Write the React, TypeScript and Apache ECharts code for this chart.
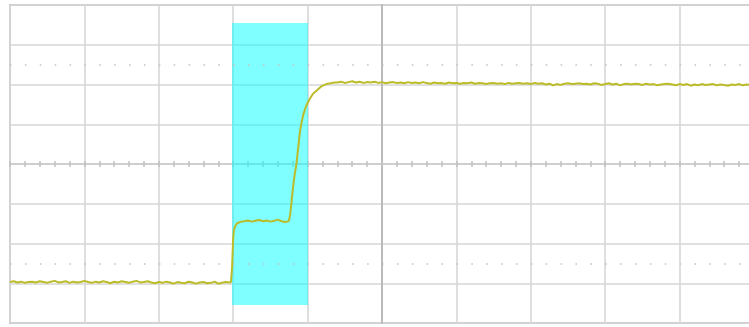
import React, { useEffect, useRef } from "react";
import * as echarts from "echarts";

// Time axis in divisions (-5 .. 5), voltage axis in divisions (-4 .. 4)
const timeRange = [-5, 5];
const voltRange = [-4, 4];
const sampleStep = 0.05;

// Low level before the first edge (starts at t = -5.00)
const lowStart = -5.0;
const lowVolts = [
  -2.97, -2.95, -2.98, -2.96, -2.99, -2.97, -2.96, -2.98, -2.95, -2.97,
  -2.99, -2.96, -2.94, -2.98, -2.97, -2.95, -2.99, -2.96, -2.98, -2.97,
  -2.94, -2.97, -2.99, -2.96, -2.98, -2.95, -2.97, -3.0, -2.96, -2.98,
  -2.95, -2.97, -2.99, -2.96, -2.94, -2.98, -2.97, -2.95, -2.98, -3.0,
  -2.97, -2.99, -2.96, -2.98, -3.01, -2.97, -2.99, -3.0, -2.96, -2.98,
  -3.01, -2.98, -2.97, -3.0, -2.99, -2.96, -3.01, -2.99, -2.97, -2.98,
];

// First edge [time, volts]
const edge1 = [
  [-2.03, -2.97], [-2.015, -2.6], [-2.005, -2.1], [-2.0, -1.85], [-1.99, -1.66],
  [-1.97, -1.55], [-1.945, -1.49], [-1.91, -1.46], [-1.88, -1.45],
];

// Intermediate plateau (starts at t = -1.85)
const plateauStart = -1.85;
const plateauVolts = [-1.44, -1.42, -1.45, -1.43, -1.41, -1.44, -1.42, -1.45, -1.43, -1.4, -1.44, -1.46];

// Second edge [time, volts]
const edge2 = [
  [-1.27, -1.45], [-1.25, -1.42], [-1.235, -1.28], [-1.22, -1.03], [-1.2, -0.65],
  [-1.175, -0.28], [-1.15, 0.0], [-1.13, 0.35], [-1.1, 0.86], [-1.06, 1.23],
  [-1.02, 1.46], [-0.98, 1.61], [-0.93, 1.76], [-0.87, 1.86], [-0.81, 1.96],
  [-0.75, 2.01], [-0.69, 2.03], [-0.64, 2.05],
];

// High level (starts at t = -0.60)
const highStart = -0.6;
const highVolts = [
  2.05, 2.07, 2.04, 2.06, 2.08, 2.05, 2.07, 2.04, 2.06, 2.05,
  2.07, 2.04, 2.06, 2.03, 2.05, 2.06, 2.04, 2.05, 2.03, 2.06,
  2.04, 2.05, 2.03, 2.06, 2.04, 2.02, 2.05, 2.03, 2.04, 2.02,
  2.05, 2.03, 2.04, 2.02, 2.04, 2.03, 2.05, 2.02, 2.04, 2.03,
  2.01, 2.03, 2.04, 2.02, 2.03, 2.01, 2.04, 2.02, 2.03, 2.04,
  2.02, 2.03, 2.01, 2.04, 2.02, 2.03, 2.0, 2.02, 1.98, 2.01,
  1.99, 2.02, 2.03, 2.01, 2.02, 2.03, 2.01, 2.02, 2.0, 2.03,
  2.02, 1.99, 2.01, 2.03, 2.0, 2.02, 1.98, 2.01, 2.02, 2.0,
  2.02, 2.01, 1.99, 2.02, 2.0, 2.01, 1.98, 2.0, 2.01, 2.02,
  2.0, 1.98, 2.01, 1.99, 2.01, 1.97, 2.0, 1.98, 2.01, 1.99,
  2.0, 2.01, 1.98, 2.0, 1.99, 1.97, 2.0, 1.99, 2.01, 1.98,
  2.0, 1.99, 2.01,
];

// Cursor window (time from/to, volts top/bottom)
const cursorTime = [-2.016, -0.995];
const cursorVolts = [3.55, -3.55];

// Dotted reference rows
const dottedRows = [2.5, -2.5];

function sampled(start: number, volts: number[]) {
  return volts.map((v, i) => [+(start + i * sampleStep).toFixed(3), v]);
}

const trace = [
  ...sampled(lowStart, lowVolts),
  ...edge1,
  ...sampled(plateauStart, plateauVolts),
  ...edge2,
  ...sampled(highStart, highVolts),
];

export default function App() {
  const ref = useRef<HTMLDivElement>(null);
  useEffect(() => {
    if (!ref.current) return;
    const chart = echarts.init(ref.current, null, { renderer: "svg" });
    const gridColor = "#d6d6d6";
    const centerColor = "#c0c0c0";
    const tickStyle = { color: centerColor, width: 1.5 };
    chart.setOption({
      animation: false,
      grid: {
        show: true,
        left: 10,
        top: 5,
        width: 744,
        height: 318,
        borderColor: "#c6c6c6",
        borderWidth: 2,
        backgroundColor: "#ffffff",
      },
      xAxis: [
        {
          type: "value",
          min: timeRange[0],
          max: timeRange[1],
          interval: 1,
          position: "bottom",
          axisLine: { show: true, onZero: true, onZeroAxisIndex: 0, lineStyle: { color: "#cdcdcd", width: 1.5 } },
          axisTick: { show: true, inside: false, length: 3, lineStyle: tickStyle },
          minorTick: { show: true, splitNumber: 5, length: 3, lineStyle: tickStyle },
          axisLabel: { show: false },
          splitLine: { show: true, lineStyle: { color: gridColor, width: 1.6 } },
        },
        {
          type: "value",
          min: timeRange[0],
          max: timeRange[1],
          interval: 1,
          position: "top",
          axisLine: { show: true, onZero: true, onZeroAxisIndex: 1, lineStyle: { color: "#cdcdcd", width: 1.5 } },
          axisTick: { show: true, inside: false, length: 3, lineStyle: tickStyle },
          minorTick: { show: true, splitNumber: 5, length: 3, lineStyle: tickStyle },
          axisLabel: { show: false },
          splitLine: { show: false },
        },
      ],
      yAxis: [
        {
          type: "value",
          min: voltRange[0],
          max: voltRange[1],
          interval: 1,
          position: "left",
          axisLine: { show: true, onZero: true, onZeroAxisIndex: 0, lineStyle: { color: "#bababa", width: 2 } },
          axisTick: { show: false },
          axisLabel: { show: false },
          splitLine: { show: true, lineStyle: { color: gridColor, width: 1.6 } },
        },
        {
          type: "value",
          min: voltRange[0],
          max: voltRange[1],
          interval: 1,
          position: "right",
          axisLine: { show: false, onZero: false },
          axisTick: { show: false },
          axisLabel: { show: false },
          splitLine: { show: false },
        },
      ],
      series: [
        {
          type: "line",
          data: [],
          silent: true,
          z: 1,
          markLine: {
            silent: true,
            symbol: "none",
            label: { show: false },
            lineStyle: { color: "#c4c4c4", width: 1.6, type: [1.6, 13.28] },
            data: dottedRows.map((r) => [
              { coord: [timeRange[0], r] },
              { coord: [timeRange[1], r] },
            ]),
          },
        },
        {
          type: "line",
          data: trace,
          showSymbol: false,
          symbol: "none",
          z: 3,
          lineStyle: { color: "#bcbc2a", width: 2 },
        },
        {
          type: "line",
          data: [],
          silent: true,
          z: 5,
          markArea: {
            silent: true,
            itemStyle: { color: "rgba(0,255,255,0.5)" },
            data: [
              [
                { coord: [cursorTime[0], cursorVolts[0]] },
                { coord: [cursorTime[1], cursorVolts[1]] },
              ],
            ],
          },
        },
      ],
    });
    return () => chart.dispose();
  }, []);
  return (
    <div
      style={{ position: "fixed", left: 0, top: 0, width: 749, height: 327, overflow: "hidden", background: "#fff" }}
    >
      <div ref={ref} style={{ width: 760, height: 327 }} />
    </div>
  );
}
